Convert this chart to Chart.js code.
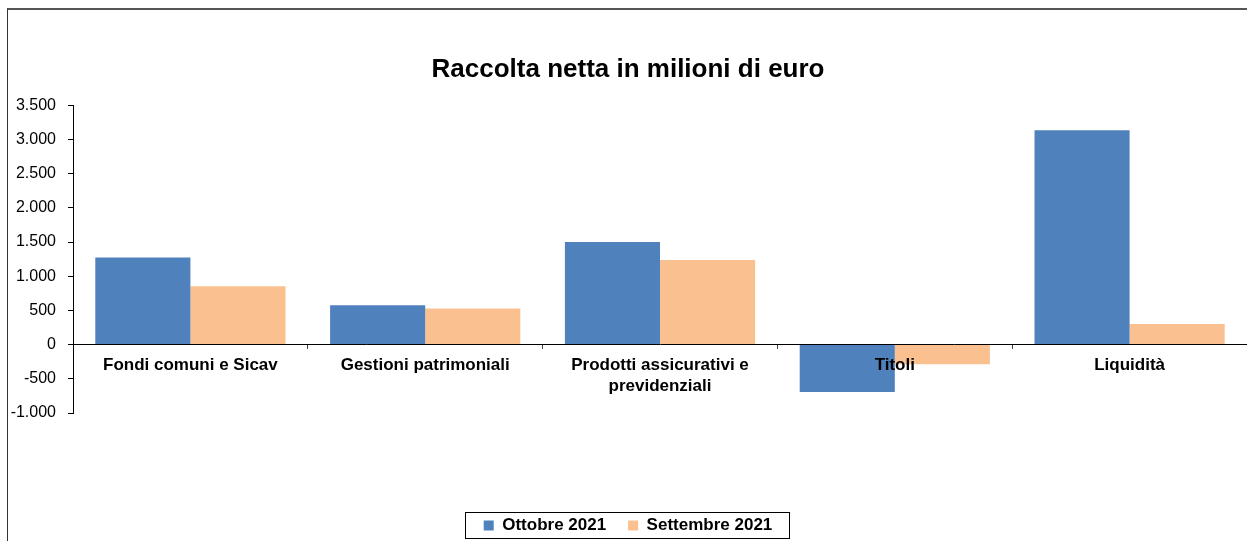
<!DOCTYPE html>
<html lang="it">
<head>
<meta charset="utf-8">
<title>Raccolta netta in milioni di euro</title>
<script src="https://cdn.jsdelivr.net/npm/chart.js@4.4.1/dist/chart.umd.min.js"></script>
<style>
  html, body { margin: 0; padding: 0; background: #fff; }
  #wrap { position: relative; width: 1247px; height: 541px; overflow: hidden; }
  #frame {
    position: absolute; left: 7px; top: 8px; right: 0; bottom: -4px;
    border-left: 1px solid #333; border-top: 2px solid #555;
    pointer-events: none;
  }
  canvas { position: absolute; left: 0; top: 0; }
</style>
</head>
<body>
<div id="wrap">
  <canvas id="chart" width="1247" height="541"></canvas>
  <div id="frame"></div>
</div>
<script>
"use strict";

/* ---------- data ---------- */
const categories = [
  "Fondi comuni e Sicav",
  "Gestioni patrimoniali",
  ["Prodotti assicurativi e", "previdenziali"],
  "Titoli",
  "Liquidità",
];
const ottobre2021 = [1272, 575, 1500, -693, 3133];
const settembre2021 = [852, 528, 1237, -288, 301];
const seriesNames = ["Ottobre 2021", "Settembre 2021"];
const yTicks = { min: -1000, max: 3500, step: 500 };

const BLUE = "#4f81bd";
const ORANGE = "#fac090";
const FONT = "Arial, 'Liberation Sans', sans-serif";

/* ---------- helpers ---------- */
// 3500 -> "3.500", -1000 -> "-1.000"
function fmtIt(v) {
  const s = String(Math.abs(v)).replace(/\B(?=(\d{3})+(?!\d))/g, ".");
  return v < 0 ? "-" + s : s;
}

// thin black box round the legend, sized from the legend's own hit boxes
const legendFrame = {
  id: "legendFrame",
  afterDraw(chart) {
    const boxes = chart.legend && chart.legend.legendHitBoxes;
    if (!boxes || !boxes.length) return;
    const left = Math.min(...boxes.map((b) => b.left)) - 19;
    const right = Math.max(...boxes.map((b) => b.left + b.width)) + 16;
    const top = Math.min(...boxes.map((b) => b.top)) - 5;
    const bottom = Math.max(...boxes.map((b) => b.top + b.height)) + 4;
    const ctx = chart.ctx;
    ctx.save();
    ctx.strokeStyle = "#000";
    ctx.lineWidth = 1;
    ctx.strokeRect(Math.round(left) + 0.5, Math.round(top) + 0.5,
      Math.round(right - left), Math.min(Math.round(bottom - top), chart.height - Math.round(top) - 2));
    ctx.restore();
  },
};

/* ---------- chart ---------- */
new Chart(document.getElementById("chart"), {
  type: "bar",
  data: {
    labels: categories,
    datasets: [
      { label: seriesNames[0], data: ottobre2021, backgroundColor: BLUE },
      { label: seriesNames[1], data: settembre2021, backgroundColor: ORANGE },
    ],
  },
  options: {
    responsive: false,
    animation: false,
    events: [],
    categoryPercentage: 0.81,
    barPercentage: 1.0,
    layout: { padding: { left: 9, right: 0, top: 30, bottom: -3 } },
    plugins: {
      title: {
        display: true,
        text: "Raccolta netta in milioni di euro",
        color: "#000",
        font: { family: FONT, size: 26, weight: "bold" },
        padding: { top: 24, bottom: 20 },
      },
      legend: {
        position: "bottom",
        // empty legend title only used as spacer between plot and legend
        title: {
          display: true,
          text: "",
          font: { family: FONT, size: 10, lineHeight: 1 },
          padding: { top: 72, bottom: 0 },
        },
        labels: {
          color: "#000",
          boxWidth: 10,
          boxHeight: 10,
          padding: 22,
          font: { family: FONT, size: 17, weight: "bold" },
        },
      },
      tooltip: { enabled: false },
    },
    scales: {
      x: {
        position: { y: 0 },
        offset: true,
        grid: {
          offset: true,
          drawOnChartArea: false,
          tickLength: 4,
          color: "#444",
        },
        border: { color: "#000", width: 1, z: 1 },
        ticks: {
          z: 1,
          color: "#000",
          padding: 7,
          maxRotation: 0,
          autoSkip: false,
          font: { family: FONT, size: 17, weight: "bold", lineHeight: 1.2 },
        },
      },
      y: {
        min: yTicks.min,
        max: yTicks.max,
        afterFit: (scale) => { scale.width = 64; },
        grid: { drawOnChartArea: false, tickLength: 5, color: "#000" },
        border: { color: "#000", width: 1 },
        ticks: {
          stepSize: yTicks.step,
          color: "#000",
          padding: 12,
          font: { family: FONT, size: 16 },
          callback: (v) => fmtIt(v),
        },
      },
    },
  },
  plugins: [legendFrame],
});
</script>
</body>
</html>
